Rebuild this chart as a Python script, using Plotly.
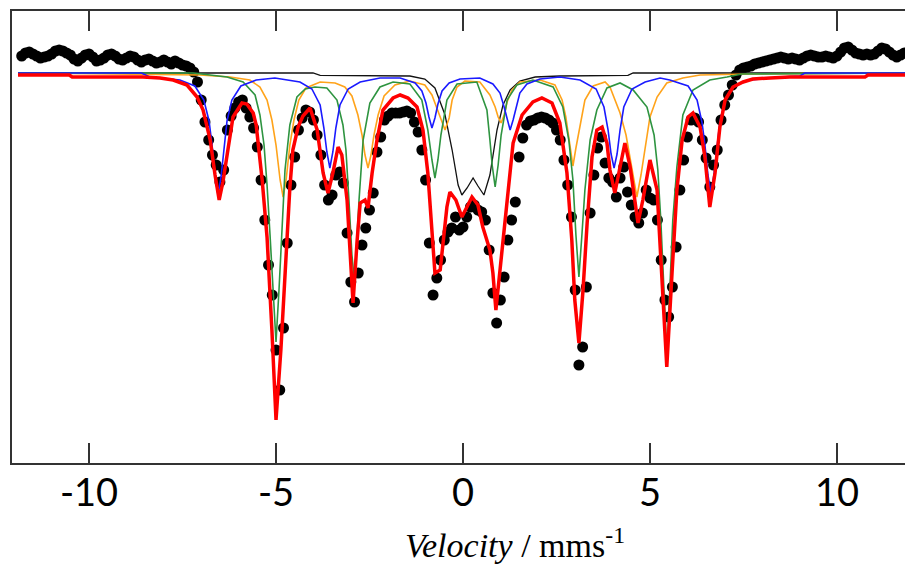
import numpy as np
import plotly.graph_objects as go

# ---- measured spectrum (relative transmission, %) ----
velocity = np.round(np.linspace(-11.8, 11.8, 237), 2)
transmission = [
    100.85, 101.00, 101.05, 100.95, 100.85, 100.75, 100.80, 100.85, 100.95, 101.10,
    101.15, 101.10, 101.00, 100.90, 100.70, 100.60, 100.75, 100.90, 100.95, 100.80,
    100.60, 100.65, 100.75, 100.90, 100.95, 100.85, 100.70, 100.65, 100.75, 100.85,
    100.80, 100.65, 100.55, 100.65, 100.70, 100.60, 100.50, 100.55, 100.65, 100.55,
    100.45, 100.60, 100.50, 100.40,
    100.35, 100.25, 100.05, 99.55, 98.65, 97.55, 96.65, 95.90, 95.40, 94.55,
    95.15, 97.15, 97.85, 98.25, 98.55, 98.65, 98.25, 97.80, 97.25, 96.30,
    94.65, 92.65, 90.40, 88.90, 86.15, 84.15, 87.25, 91.50, 94.40, 95.80, 97.15,
    97.75, 98.15, 98.05, 97.65, 96.90, 95.90, 94.40, 93.65, 93.90, 94.90,
    95.05, 94.50, 92.00, 89.55, 88.55, 90.00, 91.40, 92.25, 93.15, 94.00,
    96.05, 96.80, 97.65, 97.85, 98.00, 98.00, 98.00, 98.05, 98.10, 98.00,
    97.55, 97.05, 96.15, 94.65, 91.50, 88.90, 89.75, 90.65, 91.65, 92.05,
    92.25, 92.80, 92.15,
    92.30, 92.80, 93.30, 93.40, 93.15, 93.05, 92.65, 91.15, 89.00, 87.50,
    88.65, 89.80, 91.65, 92.65, 93.55, 95.80, 96.75, 97.40, 97.60, 97.65,
    97.75, 97.80, 97.75, 97.65, 97.50, 97.15, 96.65, 95.65, 94.40, 92.80,
    89.15, 85.40, 86.30, 89.30, 93.00, 94.90, 96.25, 96.80, 95.50, 94.75, 94.55,
    93.80, 94.75, 95.30, 94.05, 93.40, 92.80, 92.50, 93.00, 94.15, 93.75,
    93.65, 92.65, 90.65, 88.65, 87.80, 89.30, 91.30, 94.15, 95.65, 96.80,
    97.65, 97.75, 97.55, 96.65, 95.75, 94.30, 95.40, 96.15, 97.65, 98.40,
    98.90, 99.40, 99.90, 100.15,
    100.25, 100.30, 100.35, 100.45, 100.50, 100.55, 100.60, 100.65, 100.70, 100.75,
    100.80, 100.75, 100.70, 100.75, 100.70, 100.65, 100.75, 100.85, 100.90, 100.85,
    100.80, 100.80, 100.85, 100.80, 100.75, 100.85, 101.05, 101.25, 101.30, 101.15,
    101.00, 100.95, 100.90, 100.95, 100.90, 100.95, 101.10, 101.25, 101.20, 101.05,
    100.90, 100.80, 100.90, 101.00,
]

# ---- fitted sub-spectra (velocity, transmission) ----
blue_v = [-11.9, -8.6, -8.37, -7.57, -7.17, -6.93, -6.79, -6.71, -6.63, -6.55, -6.47, -6.39, -6.31,
          -6.18, -5.94, -5.53, -5.03, -4.36, -4.04, -3.82, -3.72, -3.64, -3.56, -3.48, -3.40,
          -3.29, -3.07, -2.75, -2.22, -1.68, -1.28, -1.10, -0.99, -0.91, -0.83, -0.75, -0.67,
          -0.56, -0.37, -0.08, 0.45, 0.80, 0.99, 1.10, 1.18, 1.26, 1.34, 1.42, 1.52, 1.71,
          2.06, 2.59, 3.13, 3.56, 3.77, 3.88, 3.96, 4.04, 4.12, 4.20, 4.30, 4.52, 4.87, 5.27,
          5.53, 6.02, 6.26, 6.39, 6.47, 6.55, 6.63, 6.71, 6.79, 6.87, 7.01, 7.25, 7.67, 8.48,
          9.01, 9.14, 11.9]
blue_t = [100.0, 100.0, 99.80, 99.65, 99.35, 98.65, 97.60, 96.40, 94.80, 93.90, 94.80, 96.40, 97.60,
          98.65, 99.35, 99.65, 99.75, 99.55, 99.20, 98.40, 97.25, 96.05, 95.25, 96.05, 97.25,
          98.40, 99.20, 99.55, 99.75, 99.75, 99.50, 99.10, 98.50, 97.80, 97.25, 97.75, 98.45,
          99.10, 99.50, 99.70, 99.75, 99.45, 99.00, 98.30, 97.65, 97.15, 97.65, 98.30, 99.00, 99.45,
          99.70, 99.80, 99.65, 99.20, 98.30, 97.15, 95.95, 95.25, 95.95, 97.15, 98.30, 99.20, 99.55, 99.75,
          99.65, 99.35, 98.65, 97.55, 96.40, 94.90, 94.00, 94.90, 96.40, 97.55, 98.65, 99.35, 99.65, 99.80,
          99.85, 100.0, 100.0]

orange_v = [-11.9, -7.03, -6.23, -5.70, -5.43, -5.24, -5.11, -5.00, -4.89, -4.81, -4.73, -4.63, -4.52,
            -4.39, -4.20, -3.82, -3.42, -3.16, -2.97, -2.81, -2.70, -2.62, -2.54, -2.46, -2.38,
            -2.27, -2.11, -1.82, -1.42, -1.02, -0.83, -0.70, -0.59, -0.48, -0.37, -0.29, -0.16,
            0.05, 0.45, 0.72, 0.86, 0.94, 1.02, 1.10, 1.18, 1.31, 1.52, 2.06, 2.46, 2.65, 2.75,
            2.86, 2.94, 3.02, 3.13, 3.26, 3.48, 3.80, 3.93, 4.20, 4.36, 4.47, 4.57, 4.65, 4.76,
            4.87, 5.00, 5.19, 5.45, 5.88, 6.34, 7.67, 11.9]
orange_t = [100.0, 99.90, 99.80, 99.65, 99.30, 98.65, 97.65, 96.40, 94.65, 93.80, 94.65, 96.40, 97.65,
            98.65, 99.25, 99.55, 99.50, 99.30, 98.85, 97.90, 96.90, 95.90, 95.25, 95.90, 96.90,
            97.90, 98.85, 99.40, 99.60, 99.40, 98.90, 98.25, 97.65, 97.15, 97.75, 98.65, 99.30,
            99.60, 99.55, 98.90, 98.30, 97.80, 97.50, 97.90, 98.55, 99.15, 99.55, 99.65, 99.40, 98.65, 97.80,
            96.40, 95.35, 96.25, 97.40, 98.65, 99.35, 99.55, 99.30, 98.00, 96.90, 95.80, 94.65, 93.80, 94.90,
            96.15, 97.80, 98.80, 99.50, 99.75, 99.90, 99.95, 100.0]

green_v = [-11.9, -7.22, -6.31, -5.88, -5.56, -5.43, -5.32, -5.24, -5.16, -5.08, -5.00, -4.92, -4.84,
           -4.76, -4.63, -4.44, -4.22, -3.96, -3.64, -3.37, -3.21, -3.13, -3.05, -2.97, -2.91,
           -2.86, -2.78, -2.67, -2.49, -2.22, -1.87, -1.42, -1.10, -0.94, -0.83, -0.75, -0.67,
           -0.59, -0.43, -0.16, 0.37, 0.64, 0.72, 0.78, 0.86, 0.94, 1.02, 1.18, 1.44, 1.87, 2.41,
           2.67, 2.83, 2.94, 3.02, 3.10, 3.18, 3.26, 3.40, 3.58, 3.85, 4.20, 4.55, 4.92, 5.11,
           5.21, 5.29, 5.37, 5.45, 5.53, 5.61, 5.72, 5.88, 6.15, 6.60, 7.06, 7.46, 11.9]
green_t = [100.0, 100.0, 99.80, 99.55, 98.90, 97.90, 96.40, 94.40, 91.90, 89.15, 86.55, 89.15, 91.90,
           95.15, 97.40, 98.80, 99.20, 99.30, 99.25, 98.65, 97.40, 96.15, 93.65, 90.90, 89.75,
           90.90, 93.65, 96.65, 98.50, 99.30, 99.55, 99.45, 98.65, 97.15, 95.65, 94.75, 95.65,
           96.90, 98.65, 99.45, 99.55, 98.15, 96.65, 95.40, 94.30, 95.40, 96.90, 98.65, 99.40, 99.65, 99.30,
           98.30, 96.65, 94.65, 91.90, 89.80, 91.90, 94.15, 96.65, 98.15, 99.25, 99.50, 99.15, 98.30, 96.90,
           95.15, 92.65, 89.15, 86.00, 89.15, 92.65, 95.30, 97.90, 99.15, 99.65, 99.80, 99.95, 100.0]

black_v = [-11.9, -4.01, -3.82, -1.42, -1.02, -0.75, -0.48, -0.29, -0.13, -0.03, 0.11, 0.27, 0.40,
           0.56, 0.72, 0.91, 1.07, 1.26, 1.52, 1.93, 2.59, 4.41, 4.55, 11.9]
black_t = [100.0, 100.0, 99.88, 99.85, 99.70, 99.25, 97.90, 96.15, 94.40, 93.90, 94.25, 94.75, 94.35,
           93.90, 94.90, 97.15, 98.40, 99.15, 99.60, 99.80, 99.85, 99.88, 100.0, 100.0]

total_v = [-11.9, -10.53, -10.45, -8.56, -8.10, -7.75, -7.38, -7.11, -6.95, -6.76, -6.63, -6.52, -6.42,
           -6.28, -6.15, -5.91, -5.78, -5.61, -5.53, -5.37, -5.24, -5.11, -5.00, -4.87, -4.76,
           -4.63, -4.55, -4.41, -4.28, -4.09, -3.90, -3.74, -3.61, -3.48, -3.34, -3.24, -3.10,
           -3.02, -2.94, -2.83, -2.75, -2.62, -2.54, -2.43, -2.30, -2.14, -1.87, -1.68, -1.47,
           -1.23, -1.07, -0.94, -0.80, -0.75, -0.61, -0.53, -0.43, -0.35, -0.19, -0.03, 0.24,
           0.40, 0.53, 0.72, 0.80, 0.88, 0.99, 1.12, 1.20, 1.34, 1.58, 1.87, 2.11, 2.38, 2.59,
           2.78, 2.91, 2.99, 3.10, 3.21, 3.32, 3.45, 3.58, 3.72, 3.85, 3.93, 4.06, 4.20, 4.33,
           4.47, 4.68, 4.81, 5.00, 5.19, 5.32, 5.45, 5.59, 5.72, 5.86, 6.02, 6.15, 6.34, 6.47,
           6.60, 6.74, 6.87, 7.01, 7.22, 7.49, 7.75, 8.21, 8.74, 10.75, 10.83, 11.9]
total_t = [99.90, 99.90, 99.80, 99.80, 99.75, 99.65, 99.40, 98.80, 98.15, 96.65, 94.90, 93.65, 94.55,
           96.30, 97.80, 98.50, 98.45, 98.00, 97.40, 94.65, 91.80, 87.15, 82.65, 86.15, 90.15,
           94.25, 96.15, 97.30, 97.85, 98.25, 97.15, 95.00, 94.00, 95.00, 96.30, 95.90, 93.65,
           90.65, 88.50, 91.65, 93.50, 93.65, 93.25, 95.00, 96.65, 98.15, 98.75, 98.90, 98.75,
           98.30, 97.15, 95.00, 91.65, 90.00, 90.15, 91.65, 93.30, 94.05, 93.65, 92.80, 93.80,
           93.40, 92.30, 91.15, 90.00, 88.15, 90.15, 92.50, 93.65, 96.50, 97.90, 98.55, 98.75, 98.50, 97.50,
           95.00, 91.65, 88.65, 86.50, 89.15, 92.50, 95.80, 97.15, 97.30, 96.50, 95.15, 94.00, 95.30, 96.50,
           95.30, 92.50, 93.65, 95.65, 94.15, 90.00, 85.30, 90.00, 94.15, 96.65, 97.80, 98.00, 97.30, 95.80,
           93.30, 95.00, 97.30, 98.65, 99.30, 99.55, 99.70, 99.75, 99.80, 99.80, 99.90, 99.90]

x_ticks = [-10, -5, 0, 5, 10]

fig = go.Figure()
fig.add_trace(go.Scatter(x=velocity, y=transmission, mode="markers",
                         marker=dict(color="black", size=11), hoverinfo="skip"))
fig.add_trace(go.Scatter(x=black_v, y=black_t, mode="lines", line=dict(color="#111111", width=1.3)))
fig.add_trace(go.Scatter(x=orange_v, y=orange_t, mode="lines", line=dict(color="#ffa31a", width=1.6)))
fig.add_trace(go.Scatter(x=green_v, y=green_t, mode="lines", line=dict(color="#2e9440", width=1.6)))
fig.add_trace(go.Scatter(x=blue_v, y=blue_t, mode="lines", line=dict(color="#1a1aff", width=1.6)))
fig.add_trace(go.Scatter(x=total_v, y=total_t, mode="lines", line=dict(color="#ff0000", width=3.5)))

fig.update_layout(
    width=905, height=564,
    margin=dict(l=12, r=0, t=11, b=101, autoexpand=False),
    paper_bgcolor="white", plot_bgcolor="white",
    showlegend=False,
    font=dict(family="Lato", color="black"),
)
fig.update_xaxes(
    range=[-12.06, 11.82], tickvals=x_ticks, ticktext=[str(t) for t in x_ticks],
    ticks="inside", ticklen=20, tickwidth=2, tickcolor="#333333",
    showline=True, linewidth=2, linecolor="#333333", mirror="ticks",
    showgrid=False, zeroline=False, automargin=False, ticklabelstandoff=-5,
    tickfont=dict(family="Lato", size=38, color="black"),
)
fig.update_yaxes(
    range=[80.5, 103.1], showticklabels=False, ticks="",
    showline=True, linewidth=2, linecolor="#333333", mirror=False,
    showgrid=False, zeroline=False, automargin=False,
)
fig.add_annotation(
    xref="paper", yref="paper", x=0.563, y=-0.176, xanchor="center", yanchor="middle",
    text="<i>Velocity</i> / mms<sup>-1</sup>", showarrow=False,
    font=dict(family="Liberation Serif", size=34, color="black"),
)
fig.write_html(
    "out.html",
    config={"displayModeBar": False},
    post_script="document.body.style.margin='0px';document.body.style.overflow='hidden';",
)
